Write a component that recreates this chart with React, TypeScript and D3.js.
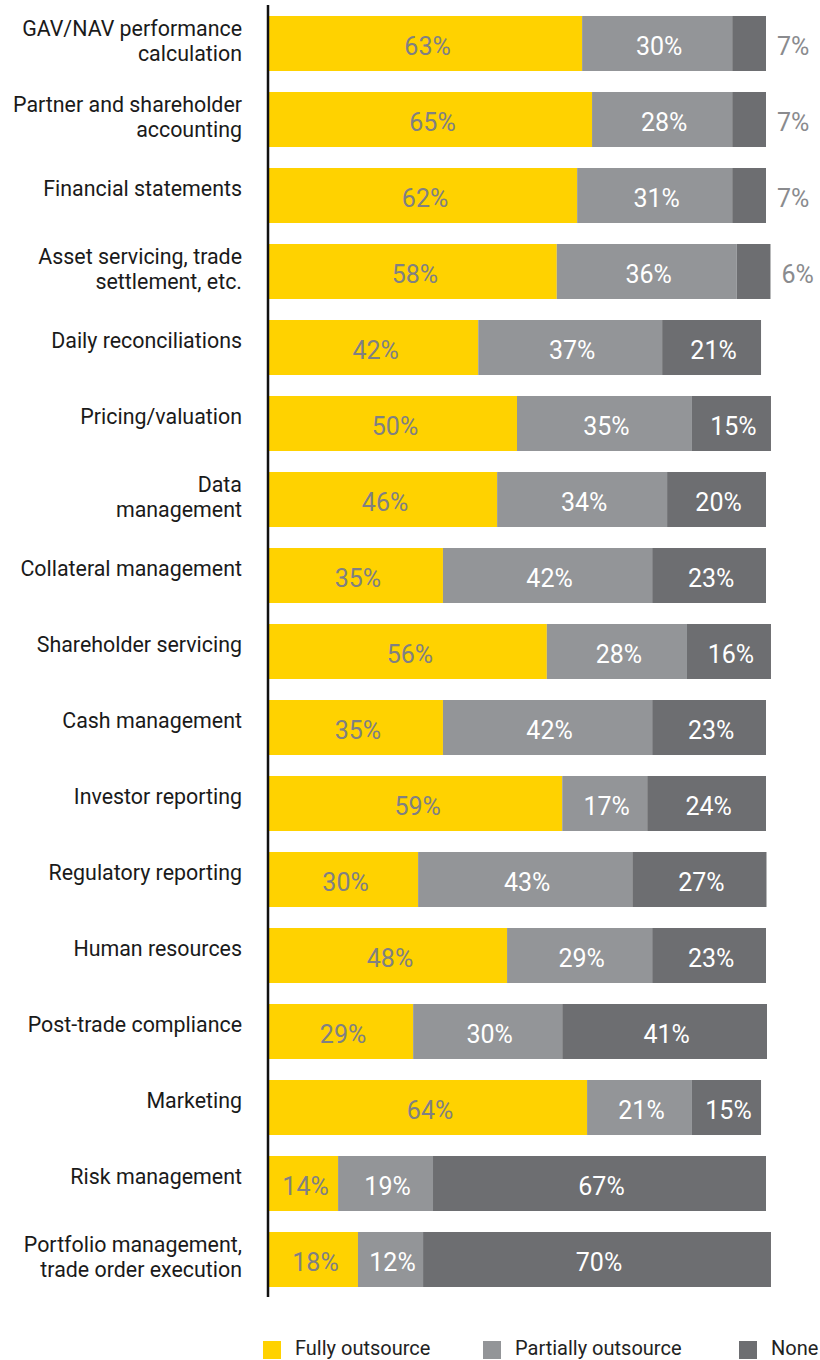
import React from "react";
import * as d3 from "d3";

const categories: string[][] = [
  ["GAV/NAV performance", "calculation"],
  ["Partner and shareholder", "accounting"],
  ["Financial statements"],
  ["Asset servicing, trade", "settlement, etc."],
  ["Daily reconciliations"],
  ["Pricing/valuation"],
  ["Data", "management"],
  ["Collateral management"],
  ["Shareholder servicing"],
  ["Cash management"],
  ["Investor reporting"],
  ["Regulatory reporting"],
  ["Human resources"],
  ["Post-trade compliance"],
  ["Marketing"],
  ["Risk management"],
  ["Portfolio management,", "trade order execution"],
];

// segment sizes (percent of full width)
const fully = [63.0, 65.0, 62.0, 57.9, 42.1, 49.9, 45.9, 35.0, 55.9, 35.0, 59.0, 30.0, 47.9, 29.0, 64.0, 13.9, 17.9];
const partially = [30.2, 28.2, 31.2, 36.2, 37.0, 35.2, 34.2, 42.1, 28.2, 42.1, 17.1, 43.1, 29.2, 30.0, 21.1, 19.1, 13.1];
const none = [6.8, 6.8, 6.8, 6.8, 19.9, 15.9, 19.9, 22.9, 16.9, 22.9, 23.9, 27.0, 22.9, 41.2, 13.9, 67.0, 70.0];

// printed labels
const fullyLabel = [63, 65, 62, 58, 42, 50, 46, 35, 56, 35, 59, 30, 48, 29, 64, 14, 18];
const partiallyLabel = [30, 28, 31, 36, 37, 35, 34, 42, 28, 42, 17, 43, 29, 30, 21, 19, 12];
const noneLabel = [7, 7, 7, 6, 21, 15, 20, 23, 16, 23, 24, 27, 23, 41, 15, 67, 70];

const seriesNames = ["Fully outsource", "Partially outsource", "None"];
const colors = ["#FFD200", "#939598", "#6D6E71"];
const labelColors = ["#808083", "#FFFFFF", "#FFFFFF"];

const W = 820;
const H = 1360;
const FONT = "Roboto, 'Noto Sans', sans-serif";

export default function App() {
  const keys = categories.map((c) => c.join(" "));
  const x = d3.scaleLinear().domain([0, 100]).range([269, 766]);
  const y = d3
    .scaleBand<string>()
    .domain(keys)
    .range([16, 1287])
    .paddingInner(21 / 76)
    .paddingOuter(0);

  const rows = keys.map((k, i) => ({
    key: k,
    lines: categories[i],
    vals: [fully[i], partially[i], none[i]],
    labels: [fullyLabel[i], partiallyLabel[i], noneLabel[i]],
  }));

  const bw = y.bandwidth();

  const legendX = [263, 483, 739];

  return (
    <svg
      width={W}
      height={H}
      style={{ position: "absolute", left: 0, top: 0, background: "#fff" }}
      fontFamily={FONT}
    >
      {rows.map((r, i) => {
        const y0 = y(r.key)!;
        const cy = y0 + bw / 2;
        let acc = 0;
        const segs = r.vals.map((v, j) => {
          const s = { x0: x(acc), x1: x(acc + v), j, label: r.labels[j] };
          acc += v;
          return s;
        });
        return (
          <g key={r.key}>
            {segs.map((s) => (
              <rect
                key={s.j}
                x={s.x0}
                y={y0}
                width={s.x1 - s.x0}
                height={bw}
                fill={colors[s.j]}
              />
            ))}
            {segs.map((s) => {
              const w = s.x1 - s.x0;
              const outside = w < 45;
              return (
                <text
                  key={"t" + s.j}
                  x={outside ? s.x1 + 11 : (s.x0 + s.x1) / 2 + 2}
                  y={cy + 11.5}
                  textAnchor={outside ? "start" : "middle"}
                  fontSize={25}
                  fill={outside ? "#8A8B8E" : labelColors[s.j]}
                >
                  {s.label}%
                </text>
              );
            })}
            <text x={242} textAnchor="end" fontSize={21.4} fill="#1A1A1A">
              {r.lines.length === 1 ? (
                <tspan x={242} y={cy}>
                  {r.lines[0]}
                </tspan>
              ) : (
                r.lines.map((l, k) => (
                  <tspan key={k} x={242} y={cy - 8 + k * 25.5}>
                    {l}
                  </tspan>
                ))
              )}
            </text>
          </g>
        );
      })}
      <line x1={268} x2={268} y1={5} y2={1297} stroke="#111" strokeWidth={2.5} />
      {seriesNames.map((n, i) => (
        <g key={n}>
          <rect x={legendX[i]} y={1341} width={18} height={18} fill={colors[i]} />
          <text x={legendX[i] + 32} y={1355} fontSize={20} fill="#222">
            {n}
          </text>
        </g>
      ))}
    </svg>
  );
}
